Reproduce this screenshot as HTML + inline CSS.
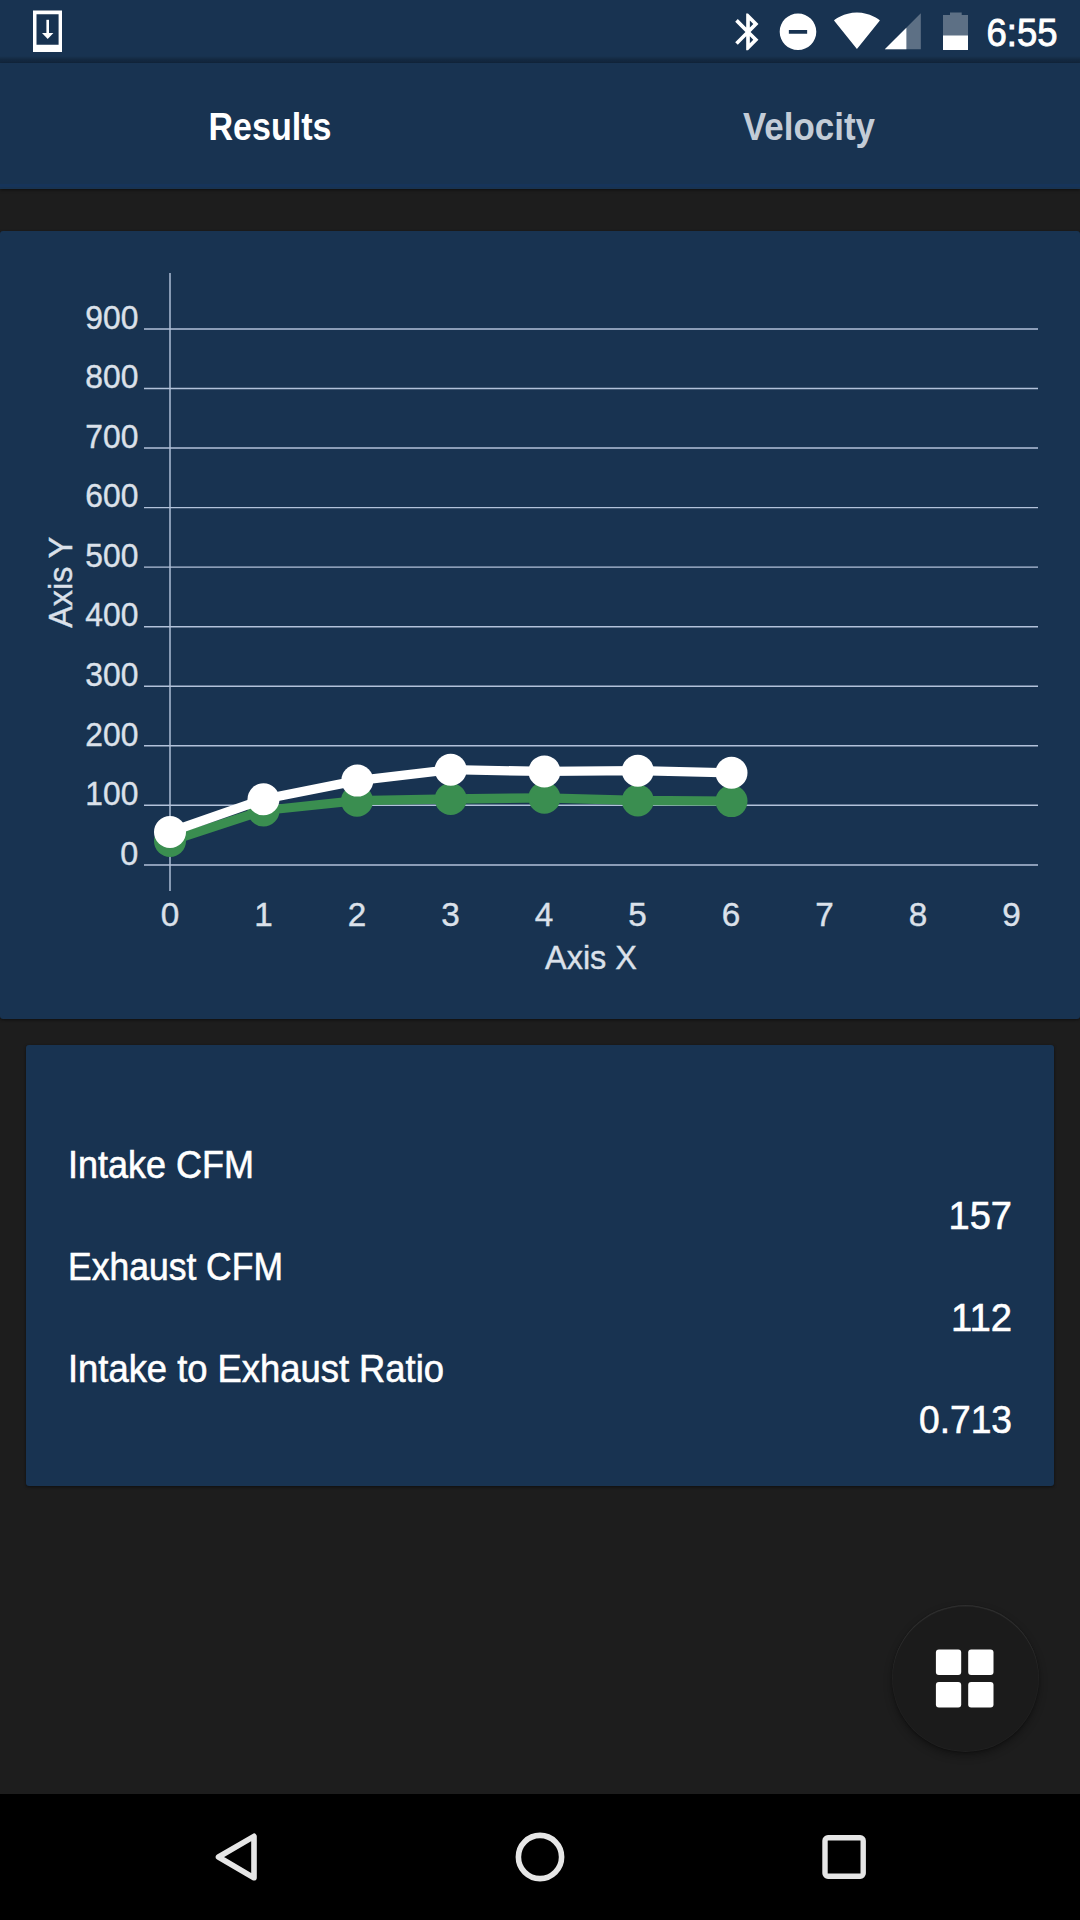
<!DOCTYPE html>
<html>
<head>
<meta charset="utf-8">
<style>
html,body{margin:0;padding:0;width:1080px;height:1920px;overflow:hidden;background:#1d1d1d;font-family:"Liberation Sans",sans-serif;}
.abs{position:absolute;}
#status{left:0;top:0;width:1080px;height:63px;background:#183351;}
#statusShadow{left:0;top:56px;width:1080px;height:7px;background:linear-gradient(to bottom,rgba(0,0,0,0) 0%,rgba(0,0,0,0.2) 50%,rgba(0,0,0,0.24) 100%);}
#appbar{left:0;top:63px;width:1080px;height:126px;background:#183351;box-shadow:0 1px 3px rgba(0,0,0,0.5);}
#chartCard{left:0;top:231px;width:1080px;height:788px;background:#183351;border-radius:3px;box-shadow:0 1px 3px rgba(0,0,0,0.5);}
#resCard{left:26px;top:1045px;width:1028px;height:441px;background:#183351;border-radius:3px;box-shadow:0 1px 3px rgba(0,0,0,0.5);}
#fab{left:891.5px;top:1604.5px;width:147px;height:147px;border-radius:50%;background:#1b1b1b;box-shadow:0 4px 8px rgba(0,0,0,0.32),0 1px 2px rgba(0,0,0,0.25),inset 0 1.5px 1px rgba(255,255,255,0.07),inset 0 0 0 1px rgba(255,255,255,0.025);}
#nav{left:0;top:1794px;width:1080px;height:126px;background:#000;}
svg{position:absolute;left:0;top:0;}
</style>
</head>
<body>
<div class="abs" id="status"></div>
<div class="abs" id="appbar"></div>
<div class="abs" id="statusShadow"></div>
<div class="abs" style="left:0;top:183.5px;width:1080px;height:3px;background:#163561;opacity:0.6"></div>
<div class="abs" id="chartCard"></div>
<div class="abs" id="resCard"></div>
<div class="abs" id="fab"></div>
<div class="abs" id="nav"></div>

<svg width="1080" height="1920" viewBox="0 0 1080 1920" font-family="Liberation Sans, sans-serif">
  <!-- status bar: download icon -->
  <g fill="#fff">
    <path fill-rule="evenodd" d="M33 10.5H62V52H33Z M36.5 14.2V44.7H58.6V14.2Z"/>
    <rect x="46.4" y="19.8" width="2.6" height="14"/>
    <path d="M42 33H53.4L47.7 39Z"/>
  </g>
  <!-- bluetooth -->
  <path transform="translate(726.05 9.94) scale(1.83)" fill="#fff" d="M17.71 7.71L12 2h-1v7.59L6.41 5 5 6.41 10.59 12 5 17.59 6.41 19 11 14.41V22h1l5.71-5.71-4.3-4.29 4.3-4.29zM13 5.83l1.88 1.88L13 9.59V5.83zm1.88 10.46L13 18.17v-3.76l1.88 1.88z"/>
  <!-- dnd -->
  <path transform="translate(776.04 9.84) scale(1.83)" fill="#fff" d="M12 2C6.48 2 2 6.48 2 12s4.48 10 10 10 10-4.48 10-10S17.52 2 12 2zm5 11H7v-2h10v2z"/>
  <!-- wifi -->
  <path transform="translate(833.3 6.59) scale(1.97)" fill="#fff" d="M12.01 21.49L23.64 7c-.45-.34-4.93-4-11.64-4C5.28 3 .81 6.66.36 7l11.63 14.49.01.01.01-.01z"/>
  <!-- signal -->
  <g transform="translate(881.2 9.7) scale(1.8)"><path d="M2 22h20V2z" fill="#fff" fill-opacity="0.3"/><path d="M14 10L2 22h12V10z" fill="#fff"/></g>
  <!-- battery -->
  <path d="M950 12.4H961.7V15H968V50H943V15H950Z" fill="#fff" fill-opacity="0.3"/>
  <rect x="943" y="35.5" width="25" height="14.5" fill="#fff"/>
  <!-- time -->
  <text x="986.5" y="46" font-size="38" fill="#fff" stroke="#fff" stroke-width="0.9" textLength="71" lengthAdjust="spacingAndGlyphs">6:55</text>

  <!-- tabs -->
  <text x="270" y="140" font-size="38.4" font-weight="bold" fill="#fff" text-anchor="middle" textLength="123" lengthAdjust="spacingAndGlyphs">Results</text>
  <text x="809" y="140" font-size="38.4" font-weight="bold" fill="#c3ccd7" text-anchor="middle" textLength="132" lengthAdjust="spacingAndGlyphs">Velocity</text>

  <!-- chart grid -->
  <g stroke="#b2c2da" stroke-width="1.45">
    <line x1="144" y1="328.9" x2="1038" y2="328.9"/>
    <line x1="144" y1="388.5" x2="1038" y2="388.5"/>
    <line x1="144" y1="448" x2="1038" y2="448"/>
    <line x1="144" y1="507.6" x2="1038" y2="507.6"/>
    <line x1="144" y1="567.1" x2="1038" y2="567.1"/>
    <line x1="144" y1="626.7" x2="1038" y2="626.7"/>
    <line x1="144" y1="686.2" x2="1038" y2="686.2"/>
    <line x1="144" y1="745.8" x2="1038" y2="745.8"/>
    <line x1="144" y1="805.3" x2="1038" y2="805.3"/>
    <line x1="144" y1="864.9" x2="1038" y2="864.9"/>
    <line x1="170" y1="273" x2="170" y2="891"/>
  </g>
  <g font-size="33.3" fill="#dbe1ea" stroke="#dbe1ea" stroke-width="0.4" text-anchor="end">
    <text x="138.3" y="328.7" textLength="53" lengthAdjust="spacingAndGlyphs">900</text>
    <text x="138.3" y="388.2" textLength="53" lengthAdjust="spacingAndGlyphs">800</text>
    <text x="138.3" y="447.8" textLength="53" lengthAdjust="spacingAndGlyphs">700</text>
    <text x="138.3" y="507.3" textLength="53" lengthAdjust="spacingAndGlyphs">600</text>
    <text x="138.3" y="566.9" textLength="53" lengthAdjust="spacingAndGlyphs">500</text>
    <text x="138.3" y="626.4" textLength="53" lengthAdjust="spacingAndGlyphs">400</text>
    <text x="138.3" y="686.0" textLength="53" lengthAdjust="spacingAndGlyphs">300</text>
    <text x="138.3" y="745.5" textLength="53" lengthAdjust="spacingAndGlyphs">200</text>
    <text x="138.3" y="805.1" textLength="53" lengthAdjust="spacingAndGlyphs">100</text>
    <text x="138.3" y="864.6" textLength="18" lengthAdjust="spacingAndGlyphs">0</text>
  </g>
  <g font-size="33.3" fill="#dbe1ea" stroke="#dbe1ea" stroke-width="0.4" text-anchor="middle">
    <text x="170" y="926">0</text>
    <text x="263.5" y="926">1</text>
    <text x="357" y="926">2</text>
    <text x="450.5" y="926">3</text>
    <text x="544" y="926">4</text>
    <text x="637.5" y="926">5</text>
    <text x="731" y="926">6</text>
    <text x="824.5" y="926">7</text>
    <text x="918" y="926">8</text>
    <text x="1011.5" y="926">9</text>
  </g>
  <text x="591" y="969.4" font-size="33.3" fill="#dbe1ea" stroke="#dbe1ea" stroke-width="0.4" text-anchor="middle" textLength="92" lengthAdjust="spacingAndGlyphs">Axis X</text>
  <text transform="translate(72.2 582.2) rotate(-90)" x="0" y="0" font-size="33.3" fill="#dbe1ea" stroke="#dbe1ea" stroke-width="0.4" text-anchor="middle" textLength="91" lengthAdjust="spacingAndGlyphs">Axis Y</text>

  <!-- series green -->
  <polyline points="170,841 263.5,810.5 357,800.7 450.7,799 544.4,797.8 637.8,800.5 731.5,801.1" fill="none" stroke="#3a8e50" stroke-width="9.3" stroke-linejoin="round"/>
  <g fill="#3a8e50">
    <circle cx="170" cy="841" r="16"/>
    <circle cx="263.5" cy="810.5" r="16"/>
    <circle cx="357" cy="800.7" r="16"/>
    <circle cx="450.7" cy="799" r="16"/>
    <circle cx="544.4" cy="797.8" r="16"/>
    <circle cx="637.8" cy="800.5" r="16"/>
    <circle cx="731.5" cy="801.1" r="16"/>
  </g>
  <!-- series white -->
  <polyline points="170,832 263.5,799.3 357.3,780.6 450.7,769.7 544.4,771.4 637.8,770.7 731.5,772.8" fill="none" stroke="#fff" stroke-width="9.3" stroke-linejoin="round"/>
  <g fill="#fff">
    <circle cx="170" cy="832" r="16"/>
    <circle cx="263.5" cy="799.3" r="16"/>
    <circle cx="357.3" cy="780.6" r="16"/>
    <circle cx="450.7" cy="769.7" r="16"/>
    <circle cx="544.4" cy="771.4" r="16"/>
    <circle cx="637.8" cy="770.7" r="16"/>
    <circle cx="731.5" cy="772.8" r="16"/>
  </g>

  <!-- results -->
  <g font-size="39.1" fill="#fff" stroke="#fff" stroke-width="0.6">
    <text x="68" y="1178.2" textLength="186" lengthAdjust="spacingAndGlyphs">Intake CFM</text>
    <text x="68" y="1280" textLength="215" lengthAdjust="spacingAndGlyphs">Exhaust CFM</text>
    <text x="68" y="1381.5" textLength="376" lengthAdjust="spacingAndGlyphs">Intake to Exhaust Ratio</text>
  </g>
  <g font-size="39.1" fill="#fff" stroke="#fff" stroke-width="0.6" text-anchor="end">
    <text x="1012" y="1229.3" textLength="63.5" lengthAdjust="spacingAndGlyphs">157</text>
    <text x="1012" y="1330.8" textLength="61" lengthAdjust="spacingAndGlyphs">112</text>
    <text x="1012" y="1433" textLength="93" lengthAdjust="spacingAndGlyphs">0.713</text>
  </g>

  <!-- fab icon -->
  <g fill="#fff">
    <rect x="935.9" y="1649.5" width="25.3" height="25.5" rx="3"/>
    <rect x="968.2" y="1649.5" width="25.3" height="25.5" rx="3"/>
    <rect x="935.9" y="1682" width="25.3" height="25.5" rx="3"/>
    <rect x="968.2" y="1682" width="25.3" height="25.5" rx="3"/>
  </g>

  <!-- nav icons -->
  <path d="M218.5 1857L254 1836.3V1877.8Z" fill="none" stroke="#e6e6e6" stroke-width="5.6" stroke-linejoin="round"/>
  <circle cx="540" cy="1857" r="21.6" fill="none" stroke="#e6e6e6" stroke-width="5.6"/>
  <rect x="825" y="1837.8" width="38.2" height="38.4" rx="3" fill="none" stroke="#e6e6e6" stroke-width="5.4"/>
</svg>
</body>
</html>
